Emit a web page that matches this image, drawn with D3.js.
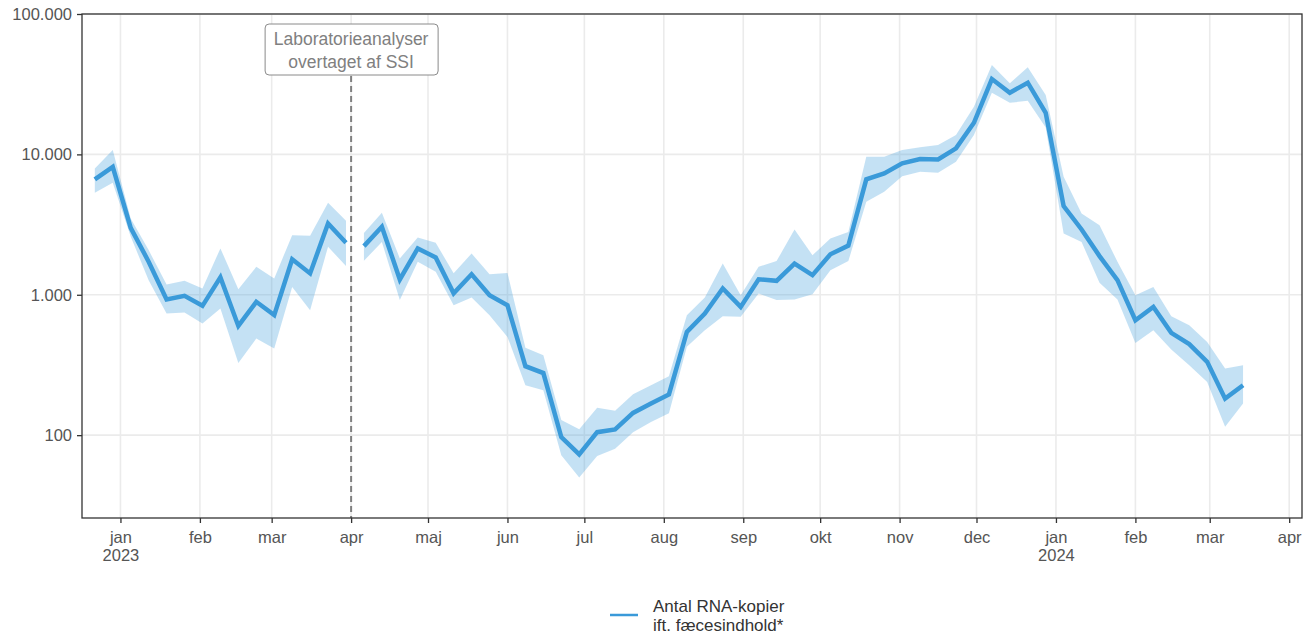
<!DOCTYPE html>
<html>
<head>
<meta charset="utf-8">
<script src="https://cdn.jsdelivr.net/npm/d3@7"></script>
<style>
  body { margin: 0; background: #fff; }
  svg text { font-family: "Liberation Sans", Arial, sans-serif; }
</style>
</head>
<body>
<div id="container"></div>
<script>
/* DATA */
const startWeek = "2022-12-22"; // first weekly point (Thursdays)
const splitDate = "2023-04-01"; // lab analyses taken over by SSI
const values = [6640, 8160, 3000, 1720, 925, 982, 834, 1330, 600, 891, 716, 1790, 1420, 3220, 2345,
  2220, 3050, 1285, 2140, 1845, 1025, 1400, 994, 843, 310, 277, 97, 73, 105, 110,
  144, 168, 195, 544, 735, 1110, 820, 1290, 1257, 1670, 1380, 1945, 2240, 6640, 7310,
  8630, 9270, 9210, 11040, 16800, 34400, 27500, 32400, 19800, 4280, 2920, 1885, 1270, 659, 820,
  536, 445, 333, 182, 227];
const upper = [7940, 10740, 3500, 2080, 1185, 1257, 1110, 2140, 1096, 1581, 1306, 2660, 2630, 4520, 3365,
  2760, 3840, 1815, 2560, 2345, 1425, 1968, 1403, 1432, 419, 371, 128, 110, 157, 149,
  196, 227, 263, 716, 957, 1671, 994, 1581, 1738, 2920, 1914, 2520, 2805, 9620, 9620,
  10740, 11220, 11650, 13740, 21850, 43300, 32100, 41700, 26500, 6920, 3800, 3130, 1718, 994, 1138,
  704, 607, 461, 299, 315];
const lower = [5330, 6280, 2600, 1270, 736, 748, 624, 798, 327, 488, 414, 1138, 777, 2200, 1600,
  1745, 2380, 916, 1718, 1456, 843, 957, 716, 501, 227, 209, 72, 50, 71, 80,
  105, 124, 143, 426, 560, 704, 697, 1021, 916, 925, 1009, 1497, 1738, 4590, 5420,
  7000, 7520, 7400, 8850, 13740, 27500, 23300, 24100, 15570, 2735, 2380, 1217, 925, 454, 560,
  407, 315, 239, 115, 168];
const yTicks = [100, 1000, 10000, 100000];
const monthNames = ["jan", "feb", "mar", "apr", "maj", "jun", "jul", "aug", "sep", "okt", "nov", "dec"];
const annotationLines = ["Laboratorieanalyser", "overtaget af SSI"];
const legendLines = ["Antal RNA-kopier", "ift. fæcesindhold*"];

/* CONSTANTS */
const width = 1315, height = 636,
  margin = { top: 14, right: 13, bottom: 118, left: 82 };
const lineColor = "#3a9ad9";
const tickFont = 16.5;

const parse = d3.timeParse("%Y-%m-%d");
const t0 = parse(startWeek);
const split = parse(splitDate);
const data = values.map((v, i) => ({
  date: d3.timeDay.offset(t0, 7 * i),
  value: v, hi: upper[i], lo: lower[i]
}));
const seg1 = data.filter(d => d.date < split);
const seg2 = data.filter(d => d.date >= split);

/* SCALES */
const xScale = d3.scaleTime()
  .domain([parse("2022-12-17"), parse("2024-04-06")])
  .range([margin.left, width - margin.right]);

const yScale = d3.scaleLog()
  .domain([25.7, 100000])
  .range([height - margin.bottom, margin.top]);

const svg = d3.select("#container")
  .append("svg")
  .attr("width", width)
  .attr("height", height);

const monthTicks = d3.timeMonth.range(parse("2023-01-01"), parse("2024-04-02"));

// grid
svg.append("g")
  .selectAll("line")
  .data(monthTicks)
  .join("line")
  .attr("x1", d => xScale(d)).attr("x2", d => xScale(d))
  .attr("y1", margin.top).attr("y2", height - margin.bottom)
  .attr("stroke", "#ebebeb").attr("stroke-width", 1.6);

svg.append("g")
  .selectAll("line")
  .data(yTicks)
  .join("line")
  .attr("x1", margin.left).attr("x2", width - margin.right)
  .attr("y1", d => yScale(d)).attr("y2", d => yScale(d))
  .attr("stroke", "#ebebeb").attr("stroke-width", 1.6);

// bands and lines
const area = d3.area()
  .x(d => xScale(d.date))
  .y0(d => yScale(d.lo))
  .y1(d => yScale(d.hi));
const line = d3.line()
  .x(d => xScale(d.date))
  .y(d => yScale(d.value));

[seg1, seg2].forEach(seg => {
  svg.append("path")
    .datum(seg)
    .attr("d", area)
    .attr("fill", lineColor)
    .attr("fill-opacity", 0.3);
});
[seg1, seg2].forEach(seg => {
  svg.append("path")
    .datum(seg)
    .attr("d", line)
    .attr("fill", "none")
    .attr("stroke", lineColor)
    .attr("stroke-width", 4.5);
});

// dashed marker
const sx = xScale(split);
svg.append("line")
  .attr("x1", sx).attr("x2", sx)
  .attr("y1", 76).attr("y2", height - margin.bottom)
  .attr("stroke", "#7f7f7f")
  .attr("stroke-width", 2)
  .attr("stroke-dasharray", "6,4");

const ann = svg.append("g");
ann.append("rect")
  .attr("x", sx - 86).attr("y", 24)
  .attr("width", 173).attr("height", 51)
  .attr("rx", 4)
  .attr("fill", "#fff")
  .attr("stroke", "#8a8a8a")
  .attr("stroke-width", 1);
ann.selectAll("text")
  .data(annotationLines)
  .join("text")
  .attr("x", sx)
  .attr("y", (d, i) => 45 + i * 23)
  .attr("text-anchor", "middle")
  .attr("font-size", 17.5)
  .attr("fill", "#808080")
  .text(d => d);

// panel border
svg.append("rect")
  .attr("x", margin.left).attr("y", margin.top)
  .attr("width", width - margin.left - margin.right)
  .attr("height", height - margin.top - margin.bottom)
  .attr("fill", "none")
  .attr("stroke", "#333")
  .attr("stroke-width", 1.3);

// yaxis
const yAxis = d3.axisLeft(yScale)
  .tickValues(yTicks)
  .tickSize(5)
  .tickPadding(5)
  .tickFormat(d => d3.format(",")(d).replace(/,/g, "."));
svg.append("g")
  .attr("transform", `translate(${margin.left}, 0)`)
  .call(yAxis)
  .call(g => g.select(".domain").remove())
  .call(g => g.selectAll("line").attr("stroke", "#333").attr("stroke-width", 1.3))
  .call(g => g.selectAll("text").attr("font-size", tickFont).attr("fill", "#555"));

// xaxis
const xAxis = d3.axisBottom(xScale)
  .tickValues(monthTicks)
  .tickSize(5)
  .tickPadding(8)
  .tickFormat(d => monthNames[d.getMonth()]);
const xg = svg.append("g")
  .attr("transform", `translate(0, ${height - margin.bottom})`)
  .call(xAxis)
  .call(g => g.select(".domain").remove())
  .call(g => g.selectAll("line").attr("stroke", "#333").attr("stroke-width", 1.3))
  .call(g => g.selectAll("text").attr("font-size", tickFont).attr("fill", "#555"));
xg.selectAll(".tick text")
  .filter(d => d.getMonth() === 0)
  .append("tspan")
  .attr("x", 0)
  .attr("dy", "1.1em")
  .text(d => d.getFullYear());

// legend
const lg = svg.append("g").attr("transform", "translate(610, 615)");
lg.append("line")
  .attr("x1", 0).attr("x2", 28)
  .attr("y1", 0).attr("y2", 0)
  .attr("stroke", lineColor)
  .attr("stroke-width", 2.5);
lg.selectAll("text")
  .data(legendLines)
  .join("text")
  .attr("x", 43)
  .attr("y", (d, i) => -3 + i * 18.5)
  .attr("font-size", 17)
  .attr("fill", "#333")
  .text(d => d);
</script>
</body>
</html>
